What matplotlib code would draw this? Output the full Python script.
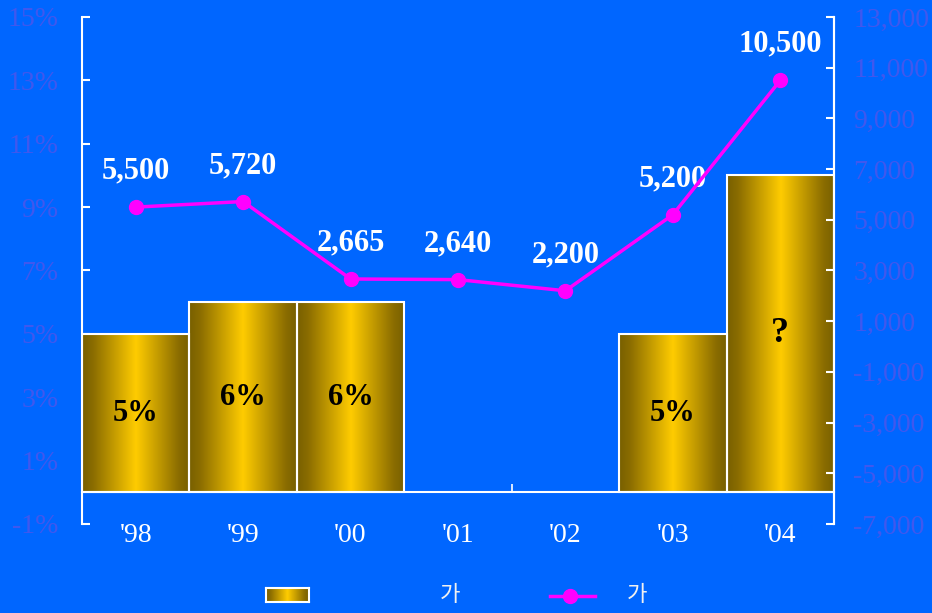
import numpy as np
import matplotlib
matplotlib.use("Agg")
import matplotlib.pyplot as plt
from matplotlib.colors import LinearSegmentedColormap
from matplotlib.ticker import FuncFormatter, FixedLocator

years = ["'98", "'99", "'00", "'01", "'02", "'03", "'04"]
rate = [5, 6, 6, np.nan, np.nan, 5, 10]          # left axis, %
rate_text = ["5%", "6%", "6%", "", "", "5%", "?"]
amount = [5500, 5720, 2665, 2640, 2200, 5200, 10500]  # right axis
legend_names = ["가", "가"]

BG = "#0066FF"
TICK_C = "#4058EE"
plt.rcParams["font.family"] = ["Liberation Serif", "Noto Sans CJK KR"]

gold = LinearSegmentedColormap.from_list(
    "gold", [(0, "#786000"), (0.1, "#8A6C00"), (0.5, "#FFCC00"),
             (0.9, "#8A6C00"), (1, "#786000")])
grad = np.linspace(0, 1, 256).reshape(1, -1)

fig = plt.figure(figsize=(9.32, 6.13), dpi=100, facecolor=BG)
ax = fig.add_axes([0.088, 0.1452, 0.8068, 0.8271])
ax.set_facecolor(BG)
x = np.arange(len(years))

bars = ax.bar(x, rate, width=1.0, facecolor="none", edgecolor="white",
              linewidth=1.5, zorder=3)
for b, t in zip(bars, rate_text):
    h = b.get_height()
    if np.isnan(h):
        continue
    x0, w = b.get_x(), b.get_width()
    ax.imshow(grad, cmap=gold, extent=(x0, x0 + w, 0, h), aspect="auto",
              interpolation="bilinear", zorder=2)
    ax.text(x0 + w / 2, h / 2, t, ha="center", va="center", color="black",
            fontsize=26 if t == "?" else 22, fontweight="bold", zorder=4)

ax.set_xlim(-0.5, len(years) - 0.5)
ax.set_ylim(-1, 15)
ax.set_yticks(np.arange(-1, 16, 2))
ax.yaxis.set_major_formatter(FuncFormatter(lambda v, p: f"{v:.0f}%"))
ax.tick_params(axis="y", direction="in", length=6, width=1.5, color="white",
               labelcolor=TICK_C, labelsize=20, pad=17)

ax.set_xticks(x)
ax.set_xticklabels(years)
ax.xaxis.set_minor_locator(FixedLocator(np.arange(0.5, len(years) - 1, 1)))
ax.tick_params(axis="x", which="major", length=0, labelcolor="white",
               labelsize=20, pad=22)
ax.tick_params(axis="x", which="minor", direction="in", length=6, width=1.2,
               color="white")

ax.spines["top"].set_visible(False)
ax.spines["bottom"].set_position(("data", 0))
for s in ("left", "right", "bottom"):
    ax.spines[s].set_color("white")
    ax.spines[s].set_linewidth(1.5)

ax2 = ax.twinx()
ax2.set_ylim(-7000, 13000)
ax2.set_yticks(np.arange(-7000, 13001, 2000))
ax2.yaxis.set_major_formatter(FuncFormatter(lambda v, p: f"{v:,.0f}"))
ax2.tick_params(axis="y", direction="in", length=6, width=1.5, color="white",
                labelcolor=TICK_C, labelsize=20, pad=14)
for s in ("top", "left", "bottom"):
    ax2.spines[s].set_visible(False)
ax2.spines["right"].set_color("white")
ax2.spines["right"].set_linewidth(1.5)

ax2.plot(x, amount, color="#FF00FF", linewidth=2.5, marker="o",
         markersize=10, zorder=5)
for xi, v in zip(x, amount):
    ax2.annotate(f"{v:,}", (xi, v), xytext=(0, 26), textcoords="offset points",
                 ha="center", va="center", color="white", fontsize=22,
                 fontweight="bold")

# legend along the bottom
lg = fig.add_axes([0.2854, 0.018, 0.0461, 0.0228])
lg.imshow(grad, cmap=gold, aspect="auto", interpolation="bilinear")
lg.set_xticks([])
lg.set_yticks([])
for s in lg.spines.values():
    s.set_color("white")
    s.set_linewidth(1.5)
fig.text(0.483, 0.030, legend_names[0], ha="center", va="center",
         color="#F0F0F0", fontsize=16, family="Noto Sans CJK KR")
fig.lines.append(plt.Line2D([0.590, 0.638], [0.027, 0.027], color="#FF00FF",
                            linewidth=2.5, transform=fig.transFigure))
fig.lines.append(plt.Line2D([0.6115], [0.027], color="#FF00FF", marker="o",
                            markersize=10, transform=fig.transFigure))
fig.text(0.683, 0.030, legend_names[1], ha="center", va="center",
         color="#F0F0F0", fontsize=16, family="Noto Sans CJK KR")

fig.savefig("out.png", dpi=100, facecolor=BG)
